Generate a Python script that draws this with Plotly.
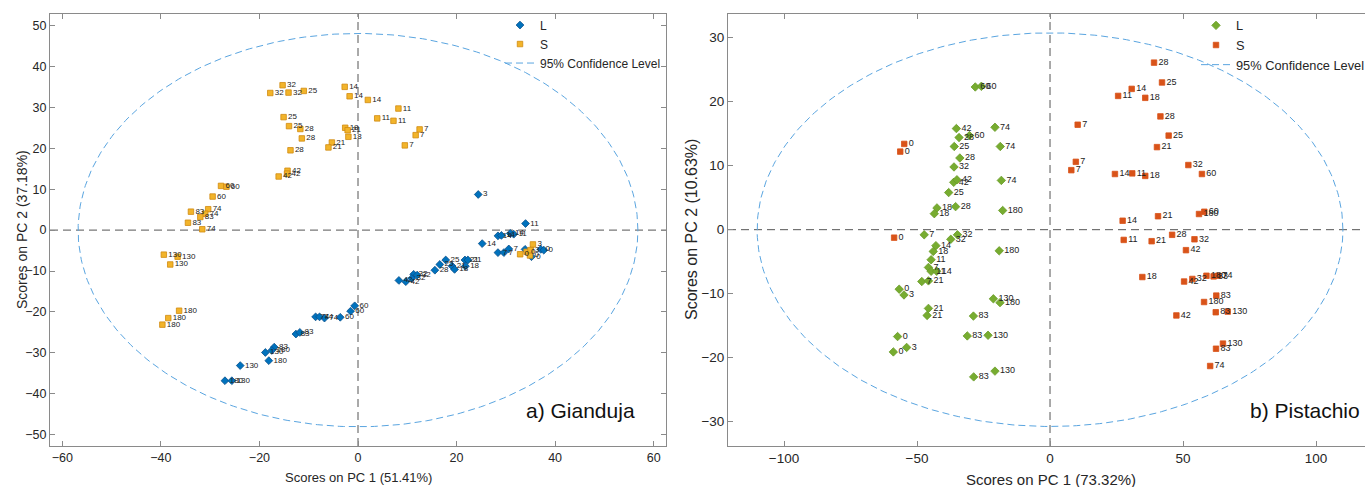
import numpy as np
import plotly.graph_objects as go

# ---------------- data: a) Gianduja ----------------
g_L_x = [24.4, 34.0, 28.4, 29.1, 30.9, 31.6, 25.2, 28.4, 29.6, 30.6, 33.9, 35.2, 37.1, 37.7,
         17.8, 16.6, 15.6, 19.1, 19.6, 21.7, 22.3, 21.8, 8.3, 9.7, 11.3, 12.0, 10.9,
         -0.67, -1.5, -3.6, -8.6, -7.8, -6.8, -12.6, -11.8, -17.0, -18.8, -17.5, -18.1,
         -23.9, -27.0, -25.6]
g_L_y = [8.7, 1.6, -1.4, -1.3, -0.8, -1.0, -3.3, -5.5, -5.5, -4.6, -4.7, -6.5, -4.7, -4.9,
         -7.3, -8.4, -9.8, -8.8, -9.6, -7.3, -7.3, -8.8, -12.3, -12.6, -10.8, -11.0, -11.8,
         -18.5, -19.8, -21.3, -21.2, -21.2, -21.5, -25.4, -25.0, -28.6, -29.9, -29.4, -31.9,
         -33.1, -36.8, -36.8]
g_L_lab = ["3", "11", "14", "14", "14", "11", "14", "7", "7", "7", "3", "0", "0", "0",
           "25", "25", "28", "21", "18", "21", "21", "18", "42", "42", "32", "32", "32",
           "60", "60", "60", "74", "74", "74", "83", "83", "83", "130", "180", "180",
           "130", "180", "130"]

g_S_x = [-15.3, -17.8, -14.1, -11.0, -15.1, -14.0, -11.7, -11.4, -13.7, -2.7, -1.7, 2.0,
         8.2, 3.9, 7.2, 12.5, 11.7, 9.5, -2.6, -2.1, -1.95, -5.3, -6.0, -14.3, -14.4, -16.1,
         -27.8, -26.7, -29.5, -30.4, -31.0, -31.6, -33.9, -32.0, -34.5, -39.4, -36.6, -38.1,
         -36.3, -38.5, -39.7, 32.9, 34.2, 34.9, 35.5, 35.0]
g_S_y = [35.4, 33.5, 33.6, 34.0, 27.6, 25.4, 24.7, 22.4, 19.5, 35.0, 32.7, 31.8,
         29.7, 27.3, 26.7, 24.6, 23.2, 20.7, 25.0, 24.4, 22.8, 21.4, 20.2, 14.5, 13.8, 13.1,
         10.8, 10.6, 8.2, 5.1, 4.0, 0.2, 4.5, 3.2, 1.8, -6.0, -6.5, -8.4,
         -19.7, -21.5, -23.1, -5.9, -5.3, -6.2, -3.5, -4.9]
g_S_lab = ["32", "32", "32", "25", "25", "25", "28", "28", "28", "14", "14", "14",
           "11", "11", "11", "7", "7", "7", "18", "21", "18", "21", "21", "42", "42", "42",
           "60", "60", "60", "74", "74", "74", "83", "83", "83", "130", "130", "130",
           "180", "180", "180", "0", "0", "0", "3", "3"]

# ---------------- data: b) Pistachio ----------------
p_L_x = [-28.1, -25.8, -35.2, -20.7, -34.2, -30.3, -36.0, -18.7, -33.9, -36.1, -36.2, -35.0,
         -18.3, -38.1, -35.5, -42.5, -43.5, -17.8, -47.3, -34.8, -37.3, -42.9, -43.9, -44.7,
         -45.7, -44.7, -42.6, -48.2, -45.7, -56.7, -54.9, -19.1, -21.3, -18.8, -45.7, -46.2,
         -28.8, -31.1, -23.3, -57.3, -53.9, -58.9, -20.7, -28.7]
p_L_y = [22.3, 22.4, 15.8, 16.0, 14.4, 14.7, 13.0, 13.0, 11.2, 9.8, 7.4, 7.8,
         7.7, 5.8, 3.6, 3.4, 2.5, 3.0, -0.8, -0.8, -1.5, -2.5, -3.4, -4.7,
         -5.9, -6.5, -6.5, -8.1, -8.0, -9.3, -10.2, -3.3, -10.8, -11.4, -12.3, -13.4,
         -13.5, -16.6, -16.5, -16.7, -18.4, -19.1, -22.1, -23.0]
p_L_lab = ["60", "60", "42", "74", "28", "60", "25", "74", "28", "32", "42", "42",
           "74", "25", "28", "18", "18", "180", "7", "32", "32", "14", "18", "11",
           "7", "11", "14", "7", "21", "0", "3", "180", "130", "180", "21", "21",
           "83", "83", "130", "0", "3", "0", "130", "83"]

p_S_x = [-54.8, -56.3, -58.6, 39.1, 42.1, 30.7, 25.6, 35.8, 41.5, 10.4, 44.6, 40.2,
         9.7, 52.0, 8.0, 24.4, 30.9, 35.8, 57.1, 27.3, 40.6, 56.0, 58.0, 45.9,
         54.3, 27.7, 38.2, 51.1, 34.7, 58.8, 61.5, 63.2, 50.4, 53.5, 62.5, 57.9,
         62.3, 66.8, 47.5, 65.0, 62.4, 60.2]
p_S_y = [13.4, 12.2, -1.25, 26.1, 23.0, 22.0, 20.9, 20.6, 17.7, 16.4, 14.7, 12.9,
         10.6, 10.1, 9.3, 8.7, 8.8, 8.4, 8.7, 1.4, 2.1, 2.45, 2.8, -0.8,
         -1.5, -1.6, -1.8, -3.2, -7.4, -7.2, -7.3, -7.2, -8.1, -7.7, -10.3, -11.3,
         -12.9, -12.8, -13.4, -17.8, -18.6, -21.3]
p_S_lab = ["0", "0", "0", "28", "25", "14", "11", "18", "28", "7", "25", "21",
           "7", "32", "7", "14", "11", "18", "60", "14", "21", "180", "60", "28",
           "32", "11", "21", "42", "18", "180", "83", "74", "42", "32", "83", "180",
           "83", "130", "42", "130", "83", "74"]

# 95% confidence ellipse semi-axes
g_ell_a, g_ell_b = 56.8, 48.05
p_ell_a, p_ell_b = 110.1, 30.75

x_ticks_g = [-60, -40, -20, 0, 20, 40, 60]
y_ticks_g = [-50, -40, -30, -20, -10, 0, 10, 20, 30, 40, 50]
x_ticks_p = [-100, -50, 0, 50, 100]
y_ticks_p = [-30, -20, -10, 0, 10, 20, 30]

FONT = "Liberation Sans, Arial, sans-serif"
TXT = "#262626"
W, H = 1365, 487
ML, MR, MT, MB = 0, 0, 14, 41
PH = H - MT - MB

fig = go.Figure()

def add_points(x, y, lab, name, symbol, size, fill, edge, xa, ya, leg, tsize):
    fig.add_trace(go.Scatter(
        x=x, y=y, text=lab, mode="markers+text", name=name,
        textposition="middle right",
        textfont=dict(family=FONT, size=tsize, color="#222222"),
        marker=dict(symbol=symbol, size=size, color=fill, line=dict(color=edge, width=0.8)),
        xaxis=xa, yaxis=ya, legend=leg, cliponaxis=False))

def add_ellipse(a, b, xa, ya, leg):
    t = np.linspace(0, 2 * np.pi, 400)
    fig.add_trace(go.Scatter(
        x=a * np.cos(t), y=b * np.sin(t), mode="lines", name="95% Confidence Level",
        line=dict(color="#5aa5e0", width=1, dash="7px,4px"),
        xaxis=xa, yaxis=ya, legend=leg, hoverinfo="skip"))

# left panel
add_points(g_L_x, g_L_y, g_L_lab, "L", "diamond", 6, "#0072BD", "#0a4f8a", "x", "y", "legend", 8)
add_points(g_S_x, g_S_y, g_S_lab, "S", "square", 5.5, "#F2B42A", "#d08a10", "x", "y", "legend", 8)
add_ellipse(g_ell_a, g_ell_b, "x", "y", "legend")
# right panel
add_points(p_L_x, p_L_y, p_L_lab, "L", "diamond", 6.5, "#77AC30", "#6a9c28", "x2", "y2", "legend2", 9)
add_points(p_S_x, p_S_y, p_S_lab, "S", "square", 5.5, "#D95319", "#D95319", "x2", "y2", "legend2", 9)
add_ellipse(p_ell_a, p_ell_b, "x2", "y2", "legend2")

def axis_style(fs):
    return dict(showgrid=False, zeroline=False, showline=True, linecolor="#8a8a8a",
                linewidth=1, ticks="inside", ticklen=5, tickcolor="#8a8a8a",
                automargin=False, tickfont=dict(family=FONT, size=fs, color=TXT))

d1 = [50 / W, 666 / W]
d2 = [728 / W, 1.0]

fig.update_layout(
    width=W, height=H, margin=dict(l=ML, r=MR, t=MT, b=MB, autoexpand=False),
    paper_bgcolor="white", plot_bgcolor="white",
    font=dict(family=FONT, color=TXT),
    xaxis=dict(domain=d1, range=[-62.5, 62.5], tickvals=x_ticks_g, mirror="ticks", **axis_style(12.5)),
    yaxis=dict(domain=[0, 1], range=[-52.75, 52.8], tickvals=y_ticks_g, mirror="ticks", **axis_style(12.5)),
    xaxis2=dict(domain=d2, range=[-121.05, 118.4], tickvals=x_ticks_p, mirror="ticks",
                anchor="y2", **axis_style(13.5)),
    yaxis2=dict(domain=[0, 1], range=[-33.8, 33.7], tickvals=y_ticks_p, mirror=False,
                anchor="x2", **axis_style(13.5)),
    legend=dict(x=500 / W, y=1.008, xanchor="left", yanchor="top", bgcolor="rgba(0,0,0,0)",
                font=dict(family=FONT, size=12, color=TXT), tracegroupgap=0),
    legend2=dict(x=1196 / W, y=1.008, xanchor="left", yanchor="top", bgcolor="rgba(0,0,0,0)",
                 font=dict(family=FONT, size=12.8, color=TXT), tracegroupgap=0),
    showlegend=True,
)

# dashed zero lines
for xr, yr in (("x", "y"), ("x2", "y2")):
    fig.add_shape(type="line", xref=xr + " domain", yref=yr, x0=0, x1=1, y0=0, y1=0,
                  line=dict(color="#555555", width=1, dash="8px,5px"), layer="below")
    fig.add_shape(type="line", xref=xr, yref=yr + " domain", x0=0, x1=0, y0=0, y1=1,
                  line=dict(color="#555555", width=1, dash="8px,5px"), layer="below")

def px_y(py):
    return (H - MB - py) / PH

ann = [
    dict(text="Scores on PC 1 (51.41%)", x=358 / W, y=px_y(478), size=13, angle=0),
    dict(text="Scores on PC 2 (37.18%)", x=22 / W, y=px_y(230), size=14, angle=-90),
    dict(text="Scores on PC 1 (73.32%)", x=1051 / W, y=px_y(479), size=15, angle=0),
    dict(text="Scores on PC 2 (10.63%)", x=691 / W, y=px_y(230), size=16, angle=-90),
]
for a in ann:
    fig.add_annotation(text=a["text"], xref="paper", yref="paper", x=a["x"], y=a["y"],
                       xanchor="center", yanchor="middle", showarrow=False, textangle=a["angle"],
                       font=dict(family=FONT, size=a["size"], color=TXT))

fig.add_annotation(text="a) Gianduja", xref="paper", yref="paper", x=637 / W, y=px_y(410),
                   xanchor="right", yanchor="middle", showarrow=False,
                   font=dict(family=FONT, size=21, color="#111111"))
fig.add_annotation(text="b) Pistachio", xref="paper", yref="paper", x=1362 / W, y=px_y(410),
                   xanchor="right", yanchor="middle", showarrow=False,
                   font=dict(family=FONT, size=21, color="#111111"))

fig.write_html("out.html", config={"displayModeBar": False},
               post_script="document.body.style.margin='0';document.body.style.overflow='hidden';")
